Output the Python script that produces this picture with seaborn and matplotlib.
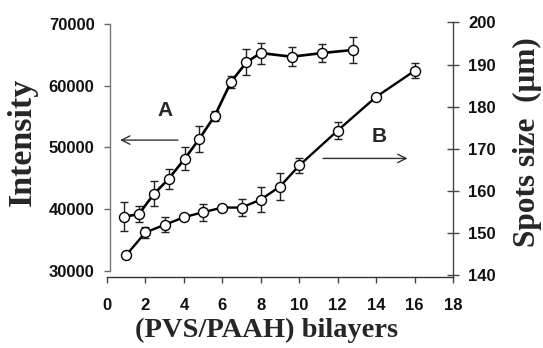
import matplotlib
matplotlib.use("Agg")
import matplotlib.pyplot as plt
import seaborn as sns
import pandas as pd

# Series A: intensity (left axis)
a_x = [0.9, 1.65, 2.45, 3.2, 4.05, 4.8, 5.6, 6.45, 7.25, 8.0, 9.6, 11.2, 12.8]
a_y = [38800, 39200, 42500, 44900, 48200, 51400, 55100, 60600, 63800, 65300, 64700, 65300, 65800]
a_err = [2300, 1300, 2000, 1600, 1900, 2100, 800, 900, 2100, 1700, 1500, 1450, 2100]

# Series B: spot size (right axis)
b_x = [1, 2, 3, 4, 5, 6, 7, 8, 9, 10, 12, 14, 16]
b_y = [144.7, 150.1, 151.9, 153.7, 154.9, 156.0, 156.0, 157.9, 161.0, 166.0, 174.3, 182.3, 188.5]
b_err = [0.4, 1.4, 1.8, 0.6, 2.0, 0.5, 2.0, 3.0, 3.1, 1.8, 2.0, 0.8, 1.8]

x_ticks = [0, 2, 4, 6, 8, 10, 12, 14, 16, 18]
left_ticks = [30000, 40000, 50000, 60000, 70000]
right_ticks = [140, 150, 160, 170, 180, 190, 200]

sns.set_style("ticks")
plt.rcParams['font.family'] = ['Liberation Sans', 'DejaVu Sans']
plt.rcParams['font.weight'] = 'bold'
plt.rcParams['xtick.labelsize'] = 12
plt.rcParams['ytick.labelsize'] = 12
plt.rcParams['xtick.color'] = '#111111'
plt.rcParams['ytick.color'] = '#111111'

dfa = pd.DataFrame({"x": a_x, "y": a_y})
dfb = pd.DataFrame({"x": b_x, "y": b_y})

fig = plt.figure(figsize=(5.43, 3.48), dpi=100)
ax = fig.add_axes([107 / 543, 71 / 348, 346 / 543, 255 / 348])
ax2 = ax.twinx()

label_font = dict(family='Liberation Serif', weight='bold')

# Series A
ax.errorbar(a_x, a_y, yerr=a_err, fmt='none', ecolor='#222222', elinewidth=1.0,
            capsize=3.2, capthick=1.0, zorder=2)
sns.lineplot(data=dfa, x="x", y="y", ax=ax, color='black', lw=1.9, marker='o',
             markersize=7.2, markerfacecolor='white', markeredgecolor='black',
             markeredgewidth=1.0, zorder=3, legend=False)

# Series B
ax2.errorbar(b_x, b_y, yerr=b_err, fmt='none', ecolor='#222222', elinewidth=1.0,
             capsize=3.2, capthick=1.0, zorder=2)
sns.lineplot(data=dfb, x="x", y="y", ax=ax2, color='black', lw=1.7, marker='o',
             markersize=7.2, markerfacecolor='white', markeredgecolor='black',
             markeredgewidth=1.0, zorder=3, legend=False)

ax.set_xlim(0, 18)
ax.set_ylim(29028, 70324)
ax2.set_ylim(139.5, 200.1)

ax.set_xticks(x_ticks)
ax.set_xticklabels([str(t) for t in x_ticks])
ax.set_yticks(left_ticks)
ax.set_yticklabels([str(t) for t in left_ticks])
ax2.set_yticks(right_ticks)
ax2.set_yticklabels([str(t) for t in right_ticks])

ax.tick_params(axis='x', direction='out', length=4, width=1, color='#444444', pad=11,
               labelsize=12, labelcolor='#111111')
ax.tick_params(axis='y', direction='out', length=4, width=1, color='#666666', pad=7,
               labelsize=12, labelcolor='#111111')
ax2.tick_params(axis='y', direction='inout', length=8, width=1, color='#444444', pad=7,
                labelsize=12, labelcolor='#111111')

for a in (ax, ax2):
    a.spines['top'].set_visible(False)
ax.spines['right'].set_visible(False)
ax2.spines['left'].set_visible(False)
ax2.spines['bottom'].set_visible(False)
ax.spines['left'].set_bounds(30000, 70000)
ax.spines['left'].set_color('#777777')
ax.spines['left'].set_position(('outward', -2))
ax.spines['bottom'].set_color('#333333')
ax2.spines['right'].set_color('#444444')
for s in ('left', 'bottom'):
    ax.spines[s].set_linewidth(1.0)
ax2.spines['right'].set_linewidth(1.0)

ax.set_xlabel('(PVS/PAAH) bilayers', fontdict=dict(label_font, size=20.5))
ax.set_ylabel('Intensity', fontdict=dict(label_font, size=24.5))
ax2.set_ylabel('Spots size  (\u03bcm)', fontdict=dict(label_font, size=22.5))
ax.xaxis.label.set_va('center')
ax.xaxis.set_label_coords(0.462, -0.208)
ax.yaxis.label.set_va('center')
ax.yaxis.set_label_coords(-0.246, 0.529)
ax2.yaxis.label.set_va('center')
ax2.yaxis.set_label_coords(1.214, 0.527)

# Annotations
ax.text(3.02, 56060, 'A', ha='center', va='center', fontsize=15,
        fontweight='bold', family='Liberation Sans')
ax.annotate('', xy=(0.68, 51200), xytext=(3.69, 51200),
            arrowprops=dict(arrowstyle='->,head_length=0.6,head_width=0.3',
                            lw=1.0, color='#333333', shrinkA=0, shrinkB=0))
ax.text(14.15, 51845, 'B', ha='center', va='center', fontsize=15,
        fontweight='bold', family='Liberation Sans')
ax.annotate('', xy=(15.64, 48230), xytext=(11.24, 48230),
            arrowprops=dict(arrowstyle='->,head_length=0.6,head_width=0.3',
                            lw=1.0, color='#333333', shrinkA=0, shrinkB=0))

ax.set_zorder(ax2.get_zorder() + 1)
ax.patch.set_visible(False)

fig.savefig('out.png', dpi=100)
